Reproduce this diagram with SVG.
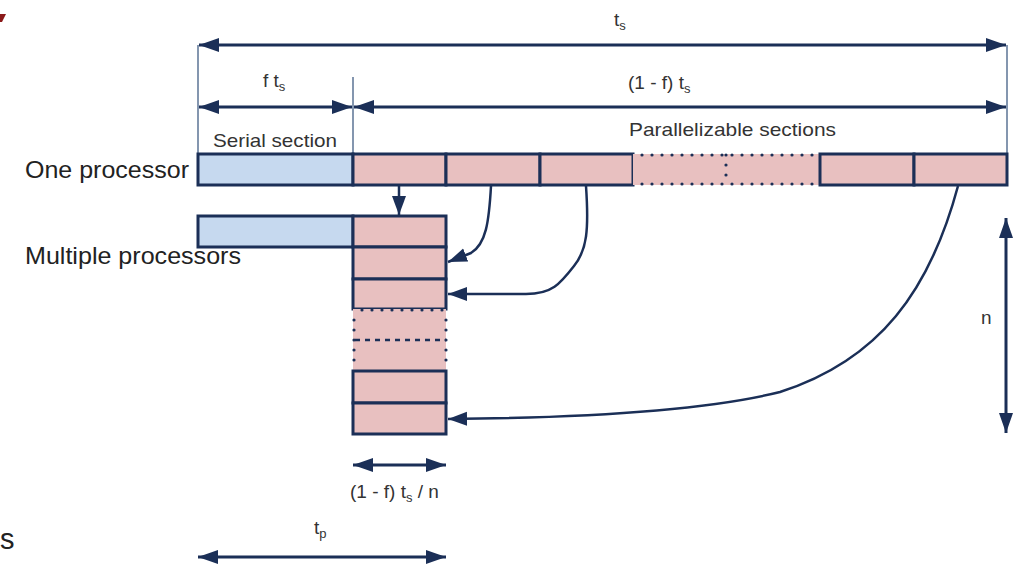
<svg xmlns="http://www.w3.org/2000/svg" width="1027" height="567" viewBox="0 0 1027 567">
<style>
text{font-family:"Liberation Sans",Arial,sans-serif;fill:#333}
.lbl{font-size:19px}
.big{font-size:24px;fill:#222}
.sub{font-size:13px}
.ser{fill:#c6d9ef;stroke:#1b2f57;stroke-width:3}
.par{fill:#e8c0c0;stroke:#1b2f57;stroke-width:3}
.pf{fill:#e8c0c0;stroke:none}
.dot{stroke:#1b2f57;stroke-width:3.2;stroke-linecap:round;stroke-dasharray:0 10;fill:none}
.dash{stroke:#1b2f57;stroke-width:2.5;stroke-dasharray:5 5;fill:none}
.dim{stroke:#1b2f57;stroke-width:3;fill:none;marker-start:url(#ah);marker-end:url(#ah)}
.ext{stroke:#5b7394;stroke-width:1.5;fill:none}
.con{stroke:#1b2f57;stroke-width:2.5;fill:none;marker-end:url(#ch)}
</style>
<defs>
<marker id="ah" markerUnits="userSpaceOnUse" markerWidth="22" markerHeight="16" refX="20" refY="7" orient="auto-start-reverse"><path d="M0,0 L20,7 L0,14 z" fill="#1b2f57"/></marker>
<marker id="ch" markerUnits="userSpaceOnUse" markerWidth="22" markerHeight="16" refX="19" refY="7" orient="auto"><path d="M0,0 L19,7 L0,14 z" fill="#1b2f57"/></marker>
</defs>
<polygon points="0,14 6,14 2,22 0,22" fill="#8b1a1a"/>
<text x="0" y="549" style="font-size:29px;fill:#222">s</text>

<g id="dimensions">
<line class="ext" x1="198" y1="45" x2="198" y2="154"/>
<line class="ext" x1="1007" y1="45" x2="1007" y2="154"/>
<line class="ext" x1="353" y1="77" x2="353" y2="154"/>
<line class="dim" x1="199" y1="45" x2="1006" y2="45"/>
<line class="dim" x1="199" y1="107" x2="352" y2="107"/>
<line class="dim" x1="354" y1="107" x2="1006" y2="107"/>
<line class="dim" x1="1006" y1="218" x2="1006" y2="433"/>
<line class="dim" x1="353" y1="465" x2="446" y2="465"/>
<line class="dim" x1="198" y1="557" x2="446" y2="557"/>
<text class="lbl" x="614" y="26">t<tspan class="sub" dy="4">s</tspan></text>
<text class="lbl" x="263" y="87">f t<tspan class="sub" dy="4">s</tspan></text>
<text class="lbl" x="628" y="89">(1 - f) t<tspan class="sub" dy="4">s</tspan></text>
<text class="lbl" x="213" y="147" textLength="124" lengthAdjust="spacingAndGlyphs">Serial section</text>
<text class="lbl" x="629" y="136" textLength="207" lengthAdjust="spacingAndGlyphs">Parallelizable sections</text>
<text class="lbl" x="981" y="324">n</text>
<text class="lbl" x="350" y="498">(1 - f) t<tspan class="sub" dy="4">s</tspan><tspan dy="-4"> / n</tspan></text>
<text class="lbl" x="314" y="534">t<tspan class="sub" dy="4">p</tspan></text>
</g>

<g id="one-processor">
<text class="big" x="25" y="178" textLength="164" lengthAdjust="spacingAndGlyphs">One processor</text>
<rect class="ser" x="198" y="154" width="155" height="31"/>
<rect class="par" x="353" y="154" width="93" height="31"/>
<rect class="par" x="446" y="154" width="94" height="31"/>
<rect class="par" x="540" y="154" width="93" height="31"/>
<rect class="pf" x="633" y="154" width="187" height="31"/>
<line class="dot" x1="642" y1="155" x2="818" y2="155"/>
<line class="dot" x1="642" y1="184" x2="818" y2="184"/>
<line class="dot" x1="726" y1="155" x2="726" y2="184"/>
<rect class="par" x="820" y="154" width="94" height="31"/>
<rect class="par" x="914" y="154" width="93" height="31"/>
</g>

<g id="multiple-processors">
<text class="big" x="25" y="264" textLength="216" lengthAdjust="spacingAndGlyphs">Multiple processors</text>
<rect class="ser" x="198" y="216" width="155" height="31"/>
<rect class="par" x="353" y="216" width="93" height="31"/>
<rect class="par" x="353" y="247" width="93" height="32"/>
<rect class="par" x="353" y="279" width="93" height="30"/>
<rect class="pf" x="353" y="309" width="93" height="62"/>
<line class="dot" x1="362" y1="310" x2="446" y2="310"/>
<line class="dot" x1="354" y1="320" x2="354" y2="370"/>
<line class="dot" x1="446" y1="320" x2="446" y2="370"/>
<line class="dash" x1="355" y1="340" x2="446" y2="340"/>
<rect class="par" x="353" y="371" width="93" height="32"/>
<rect class="par" x="353" y="403" width="93" height="31"/>
</g>

<g id="connectors">
<path class="con" d="M399,186 L399,215"/>
<path class="con" d="M491,186 C489,222 486,244 471,253 L448,262"/>
<path class="con" d="M586,186 C589,230 587,250 574,266 C560,284 552,294 526,294 L448,294"/>
<path class="con" d="M958,186 C930,290 880,360 780,392 C700,412 560,418 448,419"/>
</g>
</svg>
